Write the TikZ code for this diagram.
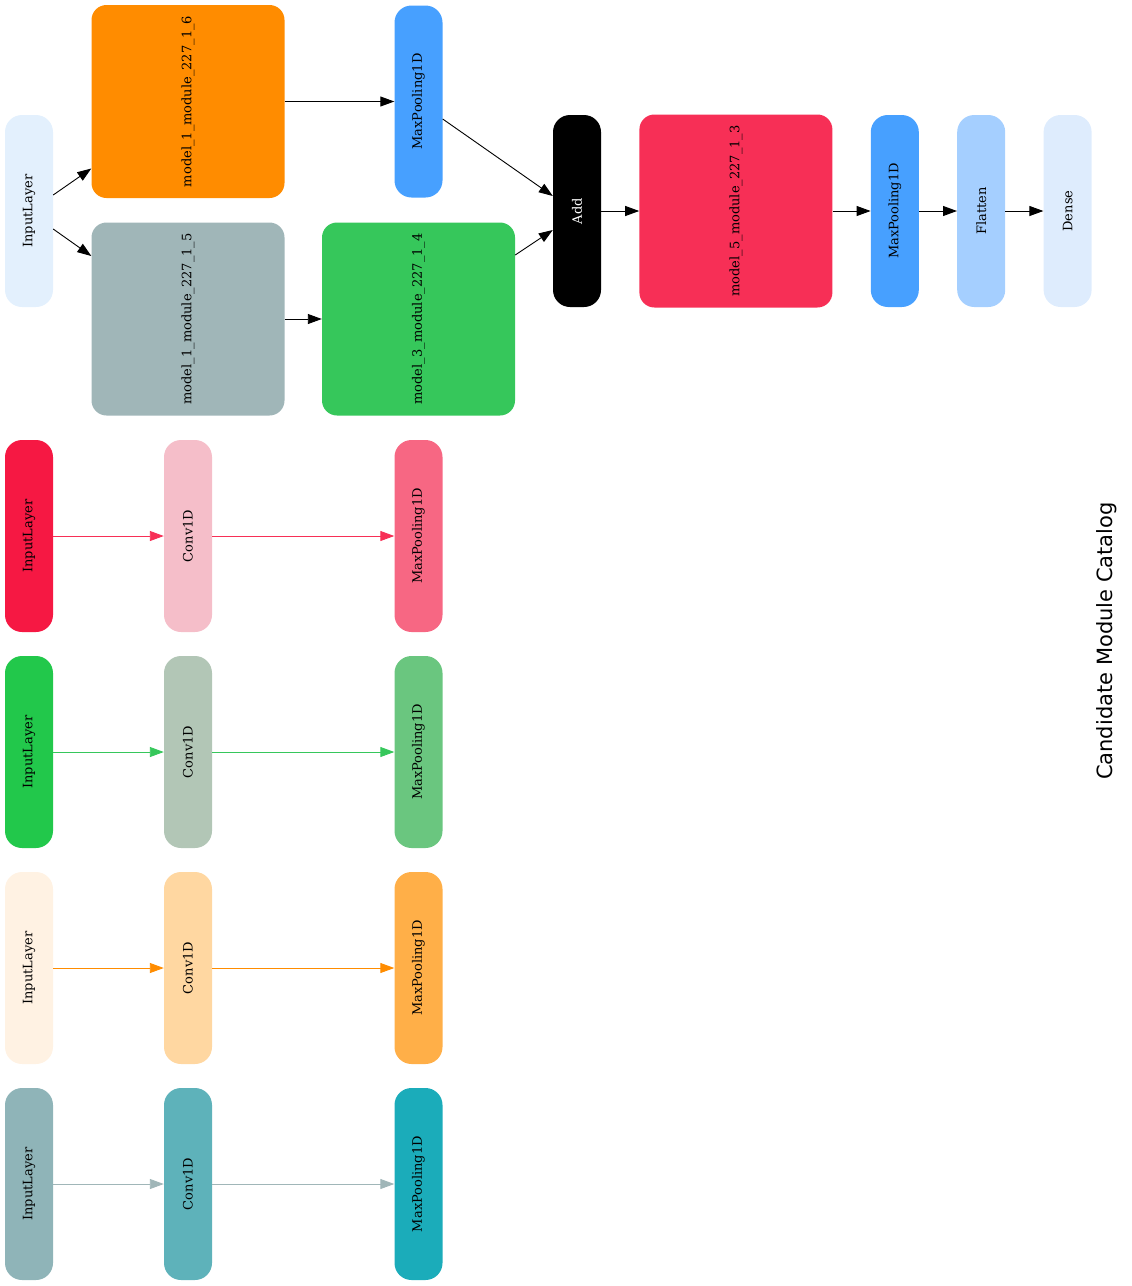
\documentclass[tikz,border=0pt]{standalone}
\usepackage{fontspec}
\setmainfont{DejaVu Serif}
\newfontfamily\titlefont{DejaVu Sans}
\usetikzlibrary{arrows.meta,positioning}

\definecolor{inblue}{HTML}{E3F0FD}
\definecolor{modorange}{HTML}{FF8C00}
\definecolor{modgrey}{HTML}{A0B6B8}
\definecolor{modgreen}{HTML}{36C75B}
\definecolor{modred}{HTML}{F72F56}
\definecolor{poolblue}{HTML}{47A0FF}
\definecolor{flatblue}{HTML}{A5CFFF}
\definecolor{denseblue}{HTML}{DEECFD}
% candidate rows
\definecolor{inA}{HTML}{F61843}\definecolor{cvA}{HTML}{F5BEC9}\definecolor{mpA}{HTML}{F76783}
\definecolor{inB}{HTML}{22C84B}\definecolor{cvB}{HTML}{B2C6B6}\definecolor{mpB}{HTML}{6AC67F}
\definecolor{inC}{HTML}{FFF2E3}\definecolor{cvC}{HTML}{FFD7A1}\definecolor{mpC}{HTML}{FFAF48}
\definecolor{inD}{HTML}{8FB4B8}\definecolor{cvD}{HTML}{5EB2BA}\definecolor{mpD}{HTML}{1BACBA}

\newcommand{\vtext}[1]{\rotatebox{90}{#1}}

\begin{document}
\begin{tikzpicture}[x=1pt,y=-1pt,
    layer/.style={rounded corners=17pt, minimum width=48pt, minimum height=192pt,
      inner sep=0pt, font=\fontsize{13}{15}\selectfont},
    module/.style={rounded corners=15pt, minimum width=193pt, minimum height=193pt,
      inner sep=0pt, font=\fontsize{13}{15}\selectfont},
    flow/.style={-{Triangle[length=14pt,width=10pt]}, line width=0.9pt},
    node distance=38pt]
   \useasboundingbox (0,0) rectangle (1132,1286);

   % selected architecture
   \node[layer, fill=inblue] (input) at (29,211) {\vtext{InputLayer}};
   \node[module, fill=modorange] (m6) at (188,101.5) {\vtext{model\_1\_module\_227\_1\_6}};
   \node[module, fill=modgrey] (m5) at (188,319) {\vtext{model\_1\_module\_227\_1\_5}};
   \node[layer, fill=poolblue] (pool1) at (418.5,101.5) {\vtext{MaxPooling1D}};
   \node[module, fill=modgreen] (m4) at (418.5,319) {\vtext{model\_3\_module\_227\_1\_4}};
   \node[layer, fill=black, text=white] (add) at (577,211) {\vtext{Add}};
   \node[module, fill=modred, right=of add] (m3) {\vtext{model\_5\_module\_227\_1\_3}};
   \node[layer, fill=poolblue, right=of m3] (pool2) {\vtext{MaxPooling1D}};
   \node[layer, fill=flatblue, right=of pool2] (flat) {\vtext{Flatten}};
   \node[layer, fill=denseblue, right=of flat] (dense) {\vtext{Dense}};

   \draw[flow] ([yshift=16pt]input.east) -- ([yshift=-67pt]m6.west);
   \draw[flow] ([yshift=-18pt]input.east) -- ([yshift=63pt]m5.west);
   \draw[flow] (m6) -- (pool1);
   \draw[flow] (m5) -- (m4);
   \draw[flow] ([yshift=-17.5pt]pool1.east) -- ([yshift=15pt]add.west);
   \draw[flow] ([yshift=64pt]m4.east) -- ([yshift=-19pt]add.west);
   \draw[flow] (add) -- (m3);
   \draw[flow] (m3) -- (pool2);
   \draw[flow] (pool2) -- (flat);
   \draw[flow] (flat) -- (dense);

   % candidate modules
   \foreach \r/\ypos/\arrowcol in {A/536/modred, B/752/modgreen, C/968/modorange, D/1184/modgrey} {
     \node[layer, fill=in\r] (in\r) at (29,\ypos) {\vtext{InputLayer}};
     \node[layer, fill=cv\r] (cv\r) at (188,\ypos) {\vtext{Conv1D}};
     \node[layer, fill=mp\r] (mp\r) at (418.5,\ypos) {\vtext{MaxPooling1D}};
     \draw[flow, draw=\arrowcol] (in\r) -- (cv\r);
     \draw[flow, draw=\arrowcol] (cv\r) -- (mp\r);
   }

   \node[rotate=90, font=\titlefont\fontsize{21}{25}\selectfont] (title) at (1107,641) {Candidate Module Catalog};
\end{tikzpicture}
\end{document}
